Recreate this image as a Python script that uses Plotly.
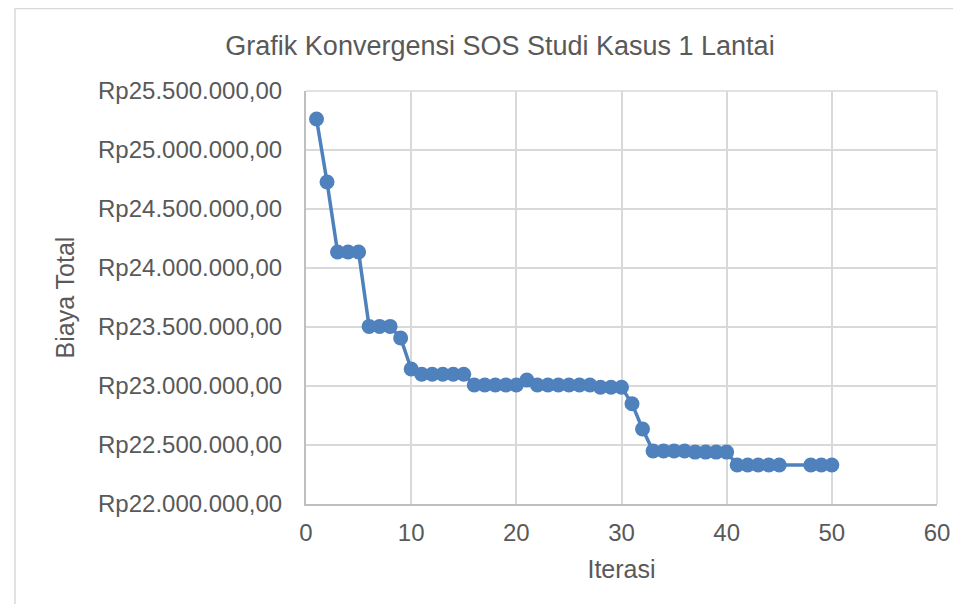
import plotly.graph_objects as go

# ---- data ----
iterasi = [1, 2, 3, 4, 5, 6, 7, 8, 9, 10,
           11, 12, 13, 14, 15, 16, 17, 18, 19, 20,
           21, 22, 23, 24, 25, 26, 27, 28, 29, 30,
           31, 32, 33, 34, 35, 36, 37, 38, 39, 40,
           41, 42, 43, 44, 45, 48, 49, 50]
biaya_total = [25263000, 24729000, 24136000, 24136000, 24136000,
               23505000, 23505000, 23505000, 23407000, 23144000,
               23100000, 23100000, 23100000, 23100000, 23100000,
               23008000, 23008000, 23008000, 23008000, 23008000,
               23050000, 23008000, 23008000, 23008000, 23008000,
               23008000, 23008000, 22990000, 22990000, 22990000,
               22850000, 22636000, 22449000, 22449000, 22449000,
               22449000, 22440000, 22440000, 22440000, 22440000,
               22330000, 22330000, 22330000, 22330000, 22330000,
               22330000, 22330000, 22330000]
x_ticks = [0, 10, 20, 30, 40, 50, 60]
y_ticks = [22000000, 22500000, 23000000, 23500000, 24000000, 24500000, 25000000, 25500000]
y_tick_labels = ["Rp22.000.000,00", "Rp22.500.000,00", "Rp23.000.000,00", "Rp23.500.000,00",
                 "Rp24.000.000,00", "Rp24.500.000,00", "Rp25.000.000,00", "Rp25.500.000,00"]

FONT = "Liberation Sans, Arial, sans-serif"
TXT = "#595959"
BLUE = "#4F81BD"

# page body has an 8px margin; figure sits at (8, 8)
OFF = 8
W, H = 945, 596
L, R, T, B = 298, 16, 83, 100

fig = go.Figure()
fig.add_trace(go.Scatter(
    x=iterasi, y=biaya_total, mode="lines+markers",
    line=dict(color=BLUE, width=3.5),
    marker=dict(color=BLUE, size=15),
    showlegend=False,
))

pw = W - L - R
ph = H - T - B
# outer chart border (left/top visible)
fig.add_shape(type="rect", xref="paper", yref="paper",
              x0=(15 - OFF - L) / pw, x1=(W + 20 - L) / pw,
              y0=(-(B + 20)) / ph, y1=(H - B - 0.5) / ph,
              line=dict(color="#d9d9d9", width=1.5), fillcolor="rgba(0,0,0,0)", layer="below")

fig.update_layout(
    width=W, height=H,
    margin=dict(l=L, r=R, t=T, b=B, autoexpand=False),
    paper_bgcolor="white", plot_bgcolor="white",
    font=dict(family=FONT, color=TXT, size=24),
    title=dict(text="Grafik Konvergensi SOS Studi Kasus 1 Lantai",
               x=(500 - OFF) / W, xref="container", xanchor="center",
               y=1 - (46 - OFF) / H, yref="container", yanchor="middle",
               font=dict(size=27, color=TXT, family=FONT)),
)
fig.update_xaxes(
    range=[0, 60], tickvals=x_ticks, showgrid=True, gridcolor="#d9d9d9", gridwidth=1.5,
    showline=True, linecolor="#bfbfbf", linewidth=2, zeroline=False, automargin=False,
    ticks="", ticklabelstandoff=6,
    tickfont=dict(size=24, color=TXT, family=FONT),
    title=dict(text="Iterasi", font=dict(size=25, color=TXT, family=FONT), standoff=16),
)
fig.update_yaxes(
    range=[22000000, 25500000], tickvals=y_ticks, ticktext=y_tick_labels,
    showgrid=True, gridcolor="#d9d9d9", gridwidth=1.5,
    showline=True, linecolor="#bfbfbf", linewidth=2, zeroline=False, automargin=False,
    ticks="", ticklabelstandoff=17,
    tickfont=dict(size=24, color=TXT, family=FONT),
    title=dict(text="Biaya Total", font=dict(size=25, color=TXT, family=FONT), standoff=16),
)
fig.add_shape(type="line", xref="paper", yref="paper", x0=1, x1=1, y0=0, y1=1,
              line=dict(color="#d9d9d9", width=1.5), layer="below")
fig.add_shape(type="line", xref="paper", yref="paper", x0=0, x1=1, y0=1, y1=1,
              line=dict(color="#d9d9d9", width=1.5), layer="below")

fig.write_html("out.html")
